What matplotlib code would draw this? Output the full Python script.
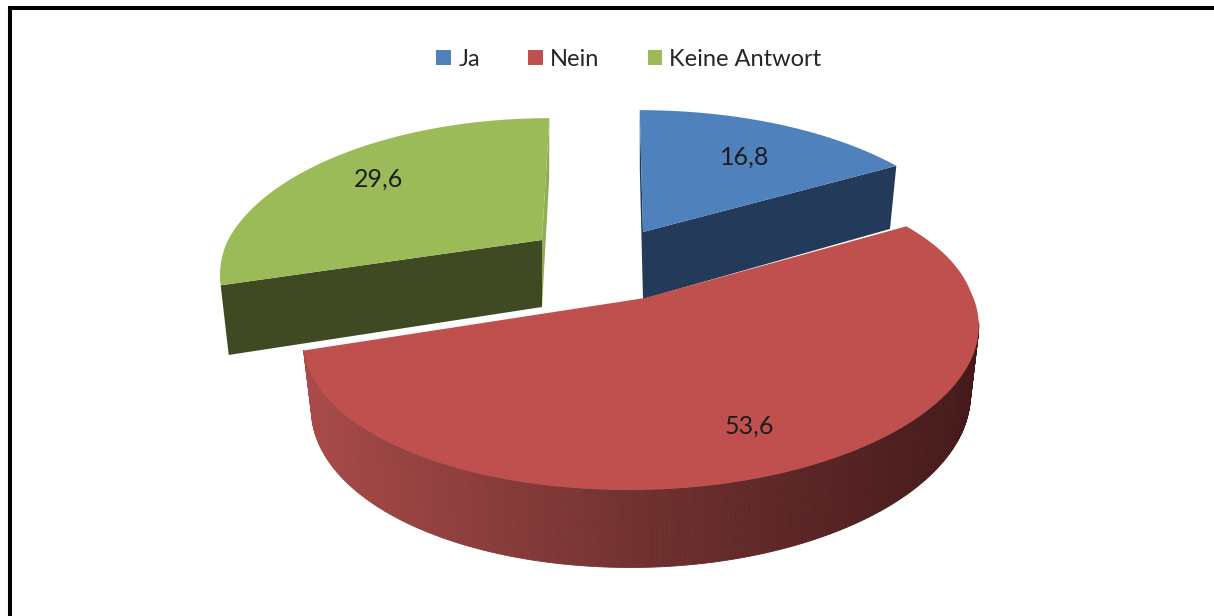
import numpy as np
import matplotlib
matplotlib.use("Agg")
import matplotlib.pyplot as plt
from matplotlib.patches import Patch, Polygon
from matplotlib.collections import PolyCollection
from matplotlib.colors import LinearSegmentedColormap

categories = ["Ja", "Nein", "Keine Antwort"]
values = [16.8, 53.6, 29.6]
top_colors = ["#4F81BD", "#C0504D", "#9BBB59"]
cut_colors = ["#243A5A", "#8F2F2D", "#3F4A22"]
sliver_colors = ["#243A5A", "#8F2F2D", "#8FAD52"]

W, H = 1214, 616
A, B, K = 327.0, 149.0, 0.223   # projection of the unit disc
DEPTH, DEPTH_POW, LOW = 67.0, 0.58, 0.975   # extrusion
# apex x, apex y, x scale left, x scale right, lean, tilt per slice (explosion layout)
layout = [(643, 232, 1.00, 0.995, -4, 0),
          (645, 298, 1.02, 0.995, 14, -7),
          (542, 240, 0.96, 0.96, 9, 0)]
label_pos = [(745, 157), (749, 426), (379, 179)]


def project(theta, r, lay):
    cx, cy, sl, sr, lean, tilt = lay
    u, v = r * np.sin(theta), r * np.cos(theta)
    s = 1 / (1 + K * v)
    dx = A * np.where(u < 0, sl, sr) * u * s + lean * np.maximum(v, 0) * s
    x = cx + dx
    y = cy - B * v * s + tilt * u * s
    xl = cx + LOW * dx
    yl = y + DEPTH * s ** DEPTH_POW
    return x, y, xl, yl


fig = plt.figure(figsize=(W / 100, H / 100), dpi=100)
ax = fig.add_axes([0, 0, 1, 1])
ax.set_xlim(0, W)
ax.set_ylim(H, 0)
ax.axis("off")

ax.plot([9.5, 9.5, W], [H, 7.5, 7.5], color="black", lw=2.9,
        solid_joinstyle="miter", solid_capstyle="butt")

edges = np.radians(np.concatenate([[0], np.cumsum(values)]) * 3.6)
side_cmap = LinearSegmentedColormap.from_list(
    "side", [(0.0, "#A84A48"), (0.5, "#703130"), (1.0, "#45191A")])

for i in [0, 2, 1]:
    lay = layout[i]
    t = np.linspace(edges[i], edges[i + 1], 300)
    x, y, xl, yl = project(t, 1.0, lay)
    x0, y0, xl0, yl0 = project(0.0, 0.0, lay)

    if i == 1:
        # outer wall of the slice that reaches the front, shaded left to right
        idx = np.where(np.cos(t) < -0.2)[0]
        quads, shades = [], []
        for a, b in zip(idx[:-1], idx[1:]):
            quads.append([(x[a], y[a]), (x[b], y[b]), (xl[b], yl[b]), (xl[a], yl[a])])
            shades.append((0.5 * (x[a] + x[b]) - 303) / (980 - 303))
        cols = side_cmap(np.clip(shades, 0, 1))
        ax.add_collection(PolyCollection(quads, facecolors=cols, edgecolors=cols,
                                         linewidths=0.6, zorder=2 + i))
    else:
        # walls of the cut: a thin sliver at the back edge, a broad one at the front edge
        back, front = (0, -1) if i == 0 else (-1, 0)
        ax.add_patch(Polygon([(x[back], y[back]), (xl[back], yl[back]), (xl0, yl0), (x0, y0)],
                             closed=True, fc=sliver_colors[i], ec="none", zorder=2 + i))
        ax.add_patch(Polygon([(x0, y0), (xl0, yl0), (xl[front], yl[front]), (x[front], y[front])],
                             closed=True, fc=cut_colors[i], ec="none", zorder=2 + i))

    ax.add_patch(Polygon(np.column_stack([np.r_[x0, x], np.r_[y0, y]]), closed=True,
                         fc=top_colors[i], ec="none", zorder=2.5 + i))

font = "Lato"
for pos, val in zip(label_pos, values):
    ax.text(pos[0], pos[1], f"{val:.1f}".replace(".", ","), ha="center", va="center",
            fontsize=18, family=font, color="#1c1c1c", zorder=10)

handles = [Patch(fc=c, ec="none") for c in top_colors]
ax.legend(handles, categories, loc="center", bbox_to_anchor=(629, 59.5),
          bbox_transform=ax.transData, ncol=3, frameon=False,
          prop={"family": font, "size": 17}, labelcolor="#262626",
          handlelength=0.62, handleheight=0.62, handletextpad=0.3,
          columnspacing=2.05, borderpad=0, borderaxespad=0)

fig.savefig("out.png", dpi=100)
